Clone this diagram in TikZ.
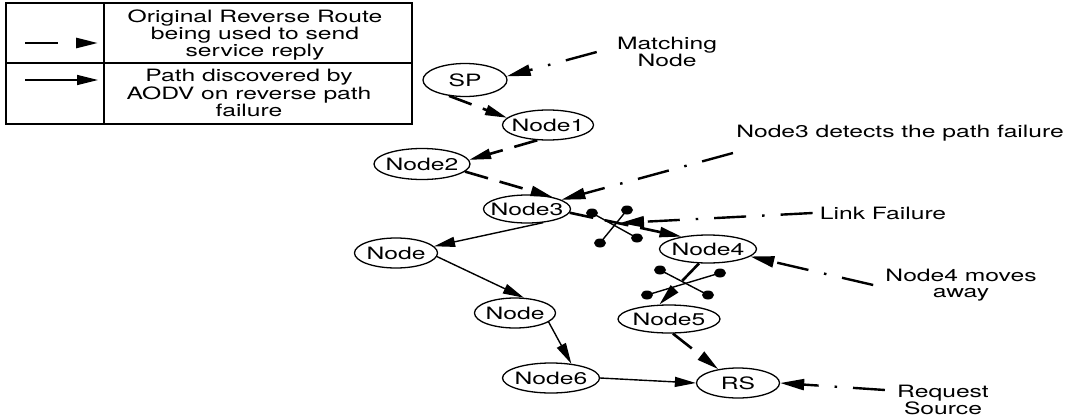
\documentclass[tikz,border=0pt]{standalone}
\usepackage{fontspec}
\setmainfont{TeX Gyre Heros}
\usepackage{graphicx}
\usetikzlibrary{shapes.geometric,arrows.meta}
\newcommand{\fs}{\fontsize{17pt}{15.5pt}\selectfont}
\newcommand{\nlab}[1]{\makebox[0pt]{\scalebox{1.45}[1]{#1}}}
\begin{document}
\begin{tikzpicture}[x=1pt,y=-1pt,
 nd/.style={draw, ellipse, line width=1.3pt, inner sep=0pt, font=\fs},
 lbl/.style={font=\fs, align=center, inner sep=0pt, xscale=1.45},
 route/.style={line width=2.6pt, dash pattern=on 24pt off 12pt, -{Triangle[length=22pt,width=10pt]}},
 aodv/.style={line width=1.4pt, -{Triangle[length=21pt,width=10pt]}},
 ptr/.style={line width=2.4pt, dash pattern=on 32pt off 16pt on 2.5pt off 16pt, -{Triangle[length=24pt,width=11pt]}},
 brk/.style={line width=1.4pt},
 dotend/.style={fill, ellipse, minimum width=12pt, minimum height=9pt, inner sep=0pt},
 frame/.style={line width=1.5pt}
]
\useasboundingbox (0,0) rectangle (1068,418);

% legend
\draw[frame] (6,3) rectangle (412,124);
\draw[frame] (104,3) -- (104,124);
\draw[frame] (6,63) -- (412,63);
\node[lbl] (leg1) at (255,35) {Original Reverse Route\\being used to send\\service reply};
\node[lbl] (leg2) at (249,93) {Path discovered by\\AODV on reverse path\\failure};
\coordinate (l1a) at (25,43);
\coordinate (l1b) at (98,43);
\coordinate (l2a) at (25,80);
\coordinate (l2b) at (98,80);
\draw[route, dash pattern=on 33pt off 30pt] (l1a) -- (l1b);
\draw[aodv, line width=1.6pt] (l2a) -- (l2b);

% nodes
\node[nd, minimum width=84pt, minimum height=33pt] (SP) at (465,80) {\nlab{SP}};
\node[nd, minimum width=91pt, minimum height=30pt] (N1) at (548,125) {\nlab{Node1}};
\node[nd, minimum width=96pt, minimum height=31pt] (N2) at (422,164) {\nlab{Node2}};
\node[nd, minimum width=87pt, minimum height=28pt] (N3) at (527,209) {\nlab{Node3}};
\node[nd, minimum width=83pt, minimum height=30pt] (NA) at (396,253) {\nlab{Node}};
\node[nd, minimum width=81pt, minimum height=30pt] (NB) at (515,313) {\nlab{Node}};
\node[nd, minimum width=97pt, minimum height=30pt] (N6) at (551,378) {\nlab{Node6}};
\node[nd, minimum width=97pt, minimum height=28pt] (N4) at (708,249) {\nlab{Node4}};
\node[nd, minimum width=102pt, minimum height=28pt] (N5) at (669,319) {\nlab{Node5}};
\node[nd, minimum width=83pt, minimum height=30pt] (RS) at (738,383) {\nlab{RS}};

% annotation texts
\node[lbl] (tMatch) at (667,52) {Matching\\Node};
\node[lbl] (tDetect) at (900,133) {Node3 detects the path failure};
\node[lbl] (tLink) at (883,213) {Link Failure};
\node[lbl] (tMoves) at (961,285) {Node4 moves\\away};
\node[lbl] (tReq) at (943,400) {Request\\Source};

% original reverse route
\draw[route] (SP.225) -- (N1.170);
\draw[route] (N1.235) -- (N2.5);
\draw[route] (N2.-10) -- (N3.25);
\draw[route] (N3.-5) -- (N4.155);
\draw[route] (N4.238) -- (N5.124);
\draw[route] (N5.-75) -- (RS.145);

% AODV path
\draw[aodv] (N3.-40) -- (NA.10);
\draw[aodv] (NA.-5) -- (NB.60);
\draw[aodv] (NB.-15) -- (N6.35);
\draw[aodv] (N6.east) -- (RS.west);

% link failure symbols
\coordinate (a1) at (592,213);
\coordinate (a2) at (637,238);
\coordinate (a3) at (627,210);
\coordinate (a4) at (600,243);
\draw[brk] (a1) -- (a2);
\draw[brk] (a3) -- (a4);
\node[dotend] (da1) at (a1) {};
\node[dotend] (da2) at (a2) {};
\node[dotend] (da3) at (a3) {};
\node[dotend] (da4) at (a4) {};
\coordinate (b1) at (660,270);
\coordinate (b2) at (708,295);
\coordinate (b3) at (720,273);
\coordinate (b4) at (647,295);
\draw[brk] (b1) -- (b2);
\draw[brk] (b3) -- (b4);
\node[dotend] (db1) at (b1) {};
\node[dotend] (db2) at (b2) {};
\node[dotend] (db3) at (b3) {};
\node[dotend] (db4) at (b4) {};
\coordinate (lf) at (620,223);

% pointers
\coordinate (pMatch) at ([xshift=-20pt]tMatch.west);
\coordinate (pDetect) at ([shift={(-3,20)}]tDetect.west);
\coordinate (pLink) at ([xshift=-7pt]tLink.west);
\coordinate (pMoves) at ([xshift=-12pt]tMoves.west);
\coordinate (pReq) at ([shift={(-12,-10)}]tReq.west);
\draw[ptr] (pMatch) -- (SP.5);
\draw[ptr] (pDetect) -- (N3.15);
\draw[ptr] (pLink) -- (lf);
\draw[ptr] (pMoves) -- (N4.-10);
\draw[ptr] (pReq) -- (RS.east);
\end{tikzpicture}
\end{document}
